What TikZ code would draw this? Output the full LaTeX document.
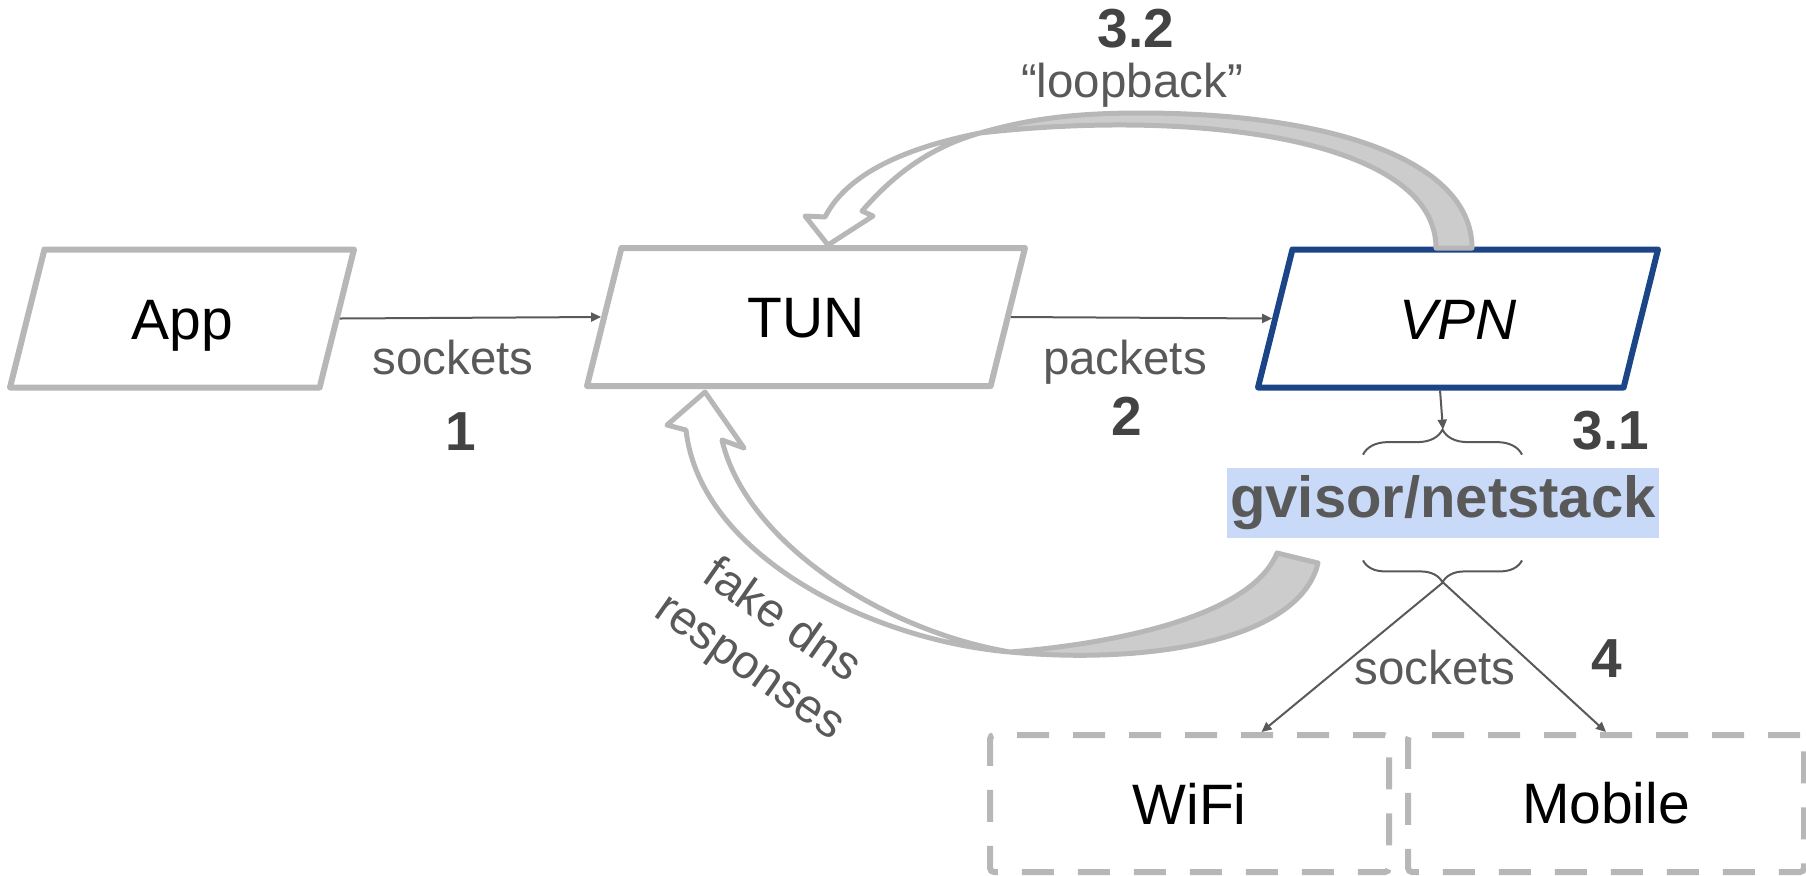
\documentclass[tikz,border=0pt]{standalone}
\usepackage{fontspec}
\setmainfont{Liberation Sans}
\usetikzlibrary{shapes.geometric,arrows.meta,decorations.pathreplacing}
\definecolor{boxgrey}{HTML}{B7B7B7}
\definecolor{backgrey}{HTML}{CCCCCC}
\definecolor{txtgrey}{HTML}{595959}
\definecolor{numgrey}{HTML}{434343}
\definecolor{vpnblue}{HTML}{1C4587}
\definecolor{hilite}{HTML}{C9DAF8}

\begin{document}
\begin{tikzpicture}[x=0.5pt,y=-0.5pt,
      para/.style={trapezium,trapezium left angle=76,trapezium right angle=104,
        trapezium stretches body,draw=boxgrey,line width=3pt,line join=round,
        text height=20.5pt,text depth=0pt,inner xsep=0pt,inner ysep=24.25pt,
        font=\fontsize{28.5}{34}\selectfont},
      dashbox/.style={draw=boxgrey,line width=3pt,dash pattern=on 16pt off 12pt,
        rounded corners=2pt,minimum width=199.5pt,minimum height=68.5pt,
        font=\fontsize{28.5}{34}\selectfont},
      lbl/.style={text=txtgrey,inner sep=0pt,font=\fontsize{23.75}{28}\selectfont},
      num/.style={text=numgrey,inner sep=0pt,font=\fontsize{27.5}{33}\selectfont\bfseries},
      conn/.style={draw=txtgrey,line width=1pt,-{Triangle[length=5pt,width=4.5pt]}},
      brc/.style={draw=txtgrey,line width=1pt,decorate},
      curved/.style={draw=boxgrey,line width=2.5pt,line join=round}]

    \path[use as bounding box] (0,0) rectangle (1806,875);

    % --- Baris atas: App, TUN dan VPN ---------------------------------------
    \node[para,minimum width=172pt] (app) at (182,318.5) {App};
    \node[para,minimum width=219pt] (tun) at (806,317) {TUN};
    \node[para,draw=vpnblue,minimum width=200pt] (vpn) at (1458,318.5) {\itshape VPN};

    % --- Tumpukan jaringan dengan kurung di atas dan bawah ------------------
    \node[fill=hilite,text=txtgrey,minimum width=216pt,minimum height=35pt,
      inner sep=0pt,font=\fontsize{29}{35}\selectfont\bfseries]
      (stack) at (1443,503) {gvisor/netstack};
    \draw[brc,decoration={brace,amplitude=12.5pt}]
      ([xshift=-40pt,yshift=6.5pt]stack.north) -- ([xshift=39.5pt,yshift=6.5pt]stack.north);
    \draw[brc,decoration={brace,amplitude=11pt}]
      ([xshift=39.5pt,yshift=-11pt]stack.south) -- ([xshift=-40pt,yshift=-11pt]stack.south);
    \coordinate (toptip) at ([yshift=19pt]stack.north);
    \coordinate (bottip) at ([yshift=-22pt]stack.south);

    % --- Baris bawah: dua antarmuka keluar ----------------------------------
    \node[dashbox] (wifi) at (1189.5,803.5) {WiFi};
    \node[dashbox,minimum width=198pt] (mobile) at (1606,803.5) {Mobile};

    % --- Panah tipis --------------------------------------------------------
    \draw[conn] (app.east) -- (tun.west);
    \draw[conn] (tun.east) -- (vpn.west);
    \draw[conn] (vpn.bottom side) -- (toptip);
    \draw[conn] (bottip) -- ([xshift=36pt]wifi.north);
    \draw[conn] (bottip) -- (mobile.north);

    % --- Panah lengkung "loopback" dari VPN kembali ke TUN ------------------
    \fill[backgrey] (980,133) .. controls (1025,120) and (1070,113) .. (1140,113)
      .. controls (1330,113) and (1472,160) .. (1472,248) -- (1436,248)
      .. controls (1436,140) and (1200,108) .. (980,133) -- cycle;
    \draw[curved] (825,217) .. controls (845,178) and (895,150) .. (980,133)
      .. controls (1025,120) and (1070,113) .. (1140,113)
      .. controls (1330,113) and (1472,160) .. (1472,248) -- (1436,248)
      .. controls (1436,140) and (1200,108) .. (980,133)
      .. controls (920,150) and (885,185) .. (862,211)
      -- (873,216) -- (828,245) -- (805,216) -- cycle;

    % --- Panah lengkung jawaban dns palsu dari netstack ke TUN --------------
    \fill[backgrey] (1010,652) .. controls (1150,665) and (1300,640) .. (1318,563)
      -- (1277,553) .. controls (1250,620) and (1100,645) .. (1010,652) -- cycle;
    \draw[curved] (686,430) .. controls (700,555) and (870,640) .. (1010,652)
      .. controls (1150,665) and (1300,640) .. (1318,563) -- (1277,553)
      .. controls (1250,620) and (1100,645) .. (1010,652)
      .. controls (880,630) and (745,540) .. (722,440)
      -- (744,448) -- (705,392) -- (667,425) -- cycle;

    % --- Teks keterangan dan nomor langkah ----------------------------------
    \node[lbl,anchor=base] (sockapp) at (453,374) {sockets};
    \node[num] (stepa) at (461,432) {1};
    \node[lbl,anchor=base] (packets) at (1125,374) {packets};
    \node[num] (stepb) at (1127,416) {2};
    \node[num] (stepc) at (1611,431) {3.1};
    \node[num] (stepd) at (1136,29) {3.2};
    \node[lbl,anchor=base] (loopback) at (1132,97) {“loopback”};
    \node[lbl,anchor=base] (sockout) at (1435,684) {sockets};
    \node[num] (stepe) at (1607,659) {4};
    \node[lbl,align=center,rotate=-35] (fakedns) at (765,645) {fake dns\\responses};
  \end{tikzpicture}
\end{document}
